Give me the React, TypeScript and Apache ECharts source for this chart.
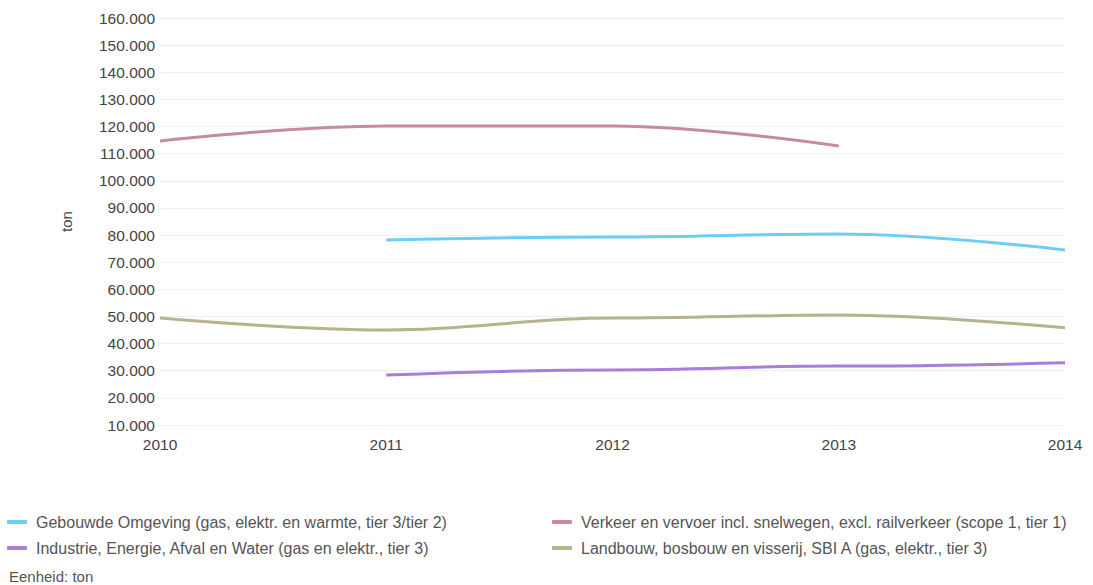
import React, { useEffect, useRef } from "react";
import * as echarts from "echarts";

const years = ["2010", "2011", "2012", "2013", "2014"];
const gebouwde = [null, 78200, 79300, 80400, 74500];
const verkeer = [114700, 120200, 120200, 112800, null];
const industrie = [null, 28400, 30300, 31700, 32900];
const landbouw = [49400, 45000, 49400, 50500, 45800];

const names = [
  "Gebouwde Omgeving (gas, elektr. en warmte, tier 3/tier 2)",
  "Verkeer en vervoer incl. snelwegen, excl. railverkeer (scope 1, tier 1)",
  "Industrie, Energie, Afval en Water (gas en elektr., tier 3)",
  "Landbouw, bosbouw en visserij, SBI A (gas, elektr., tier 3)",
];
const colors = ["#6dcdf8", "#c68c9c", "#a87ed8", "#b7b38a"];
const seriesData = [gebouwde, verkeer, industrie, landbouw];

const font = "Arial, 'Liberation Sans', sans-serif";

export default function App() {
  const ref = useRef<HTMLDivElement>(null);
  useEffect(() => {
    const chart = echarts.init(ref.current!, null, { renderer: "svg" });
    const legendCommon = {
      orient: "vertical" as const,
      top: 514,
      padding: 0,
      itemGap: 10,
      itemWidth: 20,
      itemHeight: 4,
      icon: "roundRect",
      textStyle: { color: "#555", fontSize: 16, fontFamily: font, padding: [0, 0, 0, 4] },
    };
    chart.setOption({
      animation: false,
      color: colors,
      textStyle: { fontFamily: font },
      title: {
        text: "Eenheid: ton",
        left: 9,
        top: 569,
        padding: 0,
        textStyle: { color: "#555", fontSize: 15, fontWeight: "normal", fontFamily: font, lineHeight: 15 },
      },
      legend: [
        { ...legendCommon, left: 7, data: [names[0], names[2]] },
        { ...legendCommon, left: 552, data: [names[1], names[3]] },
      ],
      grid: { left: 160, right: 28, top: 18, bottom: 160, containLabel: false },
      xAxis: {
        type: "category",
        data: years,
        boundaryGap: false,
        axisLine: { show: false },
        axisTick: { show: false },
        axisLabel: { color: "#444", fontSize: 15.5, margin: 11, fontFamily: font },
        splitLine: { show: false },
      },
      yAxis: {
        type: "value",
        min: 10000,
        max: 160000,
        interval: 10000,
        name: "ton",
        nameLocation: "middle",
        nameGap: 86,
        nameTextStyle: { color: "#444", fontSize: 15, fontFamily: font },
        axisLine: { show: false },
        axisTick: { show: false },
        axisLabel: {
          color: "#444",
          fontSize: 15.5,
          margin: 5,
          fontFamily: font,
          formatter: (v: number) => {
            const s = String(Math.round(v));
            return s.replace(/\B(?=(\d{3})+(?!\d))/g, ".");
          },
        },
        splitLine: { lineStyle: { color: "#e4f3fa", width: 1 } },
      },
      series: seriesData.map((d, i) => ({
        name: names[i],
        type: "line",
        data: d,
        smooth: 0.4,
        smoothMonotone: "x",
        showSymbol: false,
        symbol: "none",
        connectNulls: false,
        lineStyle: { width: 3, color: colors[i] },
        itemStyle: { color: colors[i] },
      })),
    });
    return () => chart.dispose();
  }, []);
  return <div ref={ref} style={{ width: 1093, height: 585, position: "absolute", left: 0, top: 0 }} />;
}
